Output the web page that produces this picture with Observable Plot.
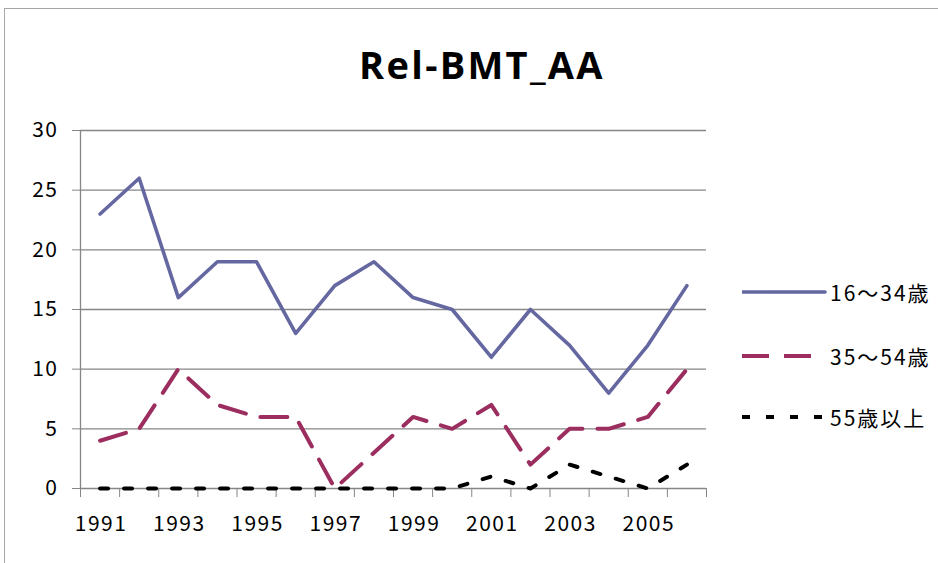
<!DOCTYPE html>
<html><head><meta charset="utf-8">
<script src="https://cdn.jsdelivr.net/npm/d3@7"></script>
<script src="https://cdn.jsdelivr.net/npm/@observablehq/plot@0.6"></script>
<style>
body{margin:0;background:#fff;}
#wrap{position:relative;width:938px;height:563px;overflow:hidden;font-family:"Noto Sans CJK JP","Noto Sans",sans-serif;}
#frame{position:absolute;left:4px;top:8px;width:960px;height:600px;border-top:1px solid #a6a6a6;border-left:1px solid #a6a6a6;}
#chart{position:absolute;left:0;top:0;}
#chart svg text{letter-spacing:1.5px;}
#title{position:absolute;left:2px;width:960px;top:38px;text-align:center;font-family:"Open Sans",sans-serif;font-weight:bold;font-size:38px;letter-spacing:2.3px;color:#000;}
.leg{position:absolute;left:742px;height:24px;display:flex;align-items:center;font-size:21px;letter-spacing:2px;color:#000;}
.leg svg{display:block;}
</style></head>
<body>
<div id="wrap">
  <div id="frame"></div>
  <div id="chart"></div>
  <div id="title">Rel-BMT_AA</div>
  <div id="legend"></div>
</div>
<script>
const years = [1991,1992,1993,1994,1995,1996,1997,1998,1999,2000,2001,2002,2003,2004,2005,2006];
const young = [23,26,16,19,19,13,17,19,16,15,11,15,12,8,12,17];
const middle = [4,5,10,7,6,6,0,3,6,5,7,2,5,5,6,10];
const older = [0,0,0,0,0,0,0,0,0,0,1,0,2,1,0,2];
const seriesNames = ["16～34歳","35～54歳","55歳以上"];
const seriesColors = ["#6467a0","#9b2d5f","#000000"];
const seriesDash = [null,"27,15","8,16"];
const yTicks = [0,5,10,15,20,25,30];
const xLabelYears = [1991,1993,1995,1997,1999,2001,2003,2005];

const boundaries = [...years.map(y => y - 0.5), years[years.length-1] + 0.5];
const seriesValues = [young, middle, older];

const grid = "#868686";
const chart = Plot.plot({
  width: 938, height: 563,
  marginLeft: 80, marginRight: 232, marginTop: 130, marginBottom: 75,
  x: {domain: [boundaries[0], boundaries[boundaries.length-1]]},
  y: {domain: [0, 30]},
  style: {fontFamily: '"Noto Sans CJK JP", sans-serif', fontSize: "21px", color: "#000", background: "transparent"},
  marks: [
    Plot.gridY(yTicks, {stroke: grid, strokeOpacity: 1, strokeWidth: 1.3}),
    Plot.axisY({ticks: yTicks, tickSize: 8, tickPadding: 14, stroke: grid, fill: "#000", label: null}),
    Plot.ruleX([boundaries[0]], {stroke: grid, strokeWidth: 1.3}),
    Plot.axisX({ticks: boundaries, tickSize: 9, tickFormat: () => "", stroke: grid, label: null}),
    Plot.axisX({ticks: xLabelYears, tickSize: 0, tickPadding: 28, tickFormat: d => String(d), fill: "#000", label: null, dx: 1}),
    ...seriesValues.map((vals, k) => Plot.line(vals, {
      x: (d, i) => years[i], y: d => d,
      stroke: seriesColors[k], strokeWidth: k === 0 ? 3.6 : 4,
      strokeDasharray: seriesDash[k] ?? undefined
    }))
  ]
});
document.getElementById("chart").appendChild(chart);

const legendTops = [280, 344, 405];
const legendLen = [83, 74, 83];
const legend = document.getElementById("legend");
seriesNames.forEach((name, k) => {
  const div = document.createElement("div");
  div.className = "leg";
  div.style.top = legendTops[k] + "px";
  const w = legendLen[k];
  div.innerHTML = `<svg width="88" height="12"><line x1="0" x2="${w}" y1="6" y2="6" stroke="${seriesColors[k]}" stroke-width="${k===0?3.6:4}" ${seriesDash[k] ? `stroke-dasharray="${seriesDash[k]}"` : ""} stroke-linecap="${k===0?'round':'butt'}"/></svg><span>${name}</span>`;
  legend.appendChild(div);
});
</script>
</body></html>
